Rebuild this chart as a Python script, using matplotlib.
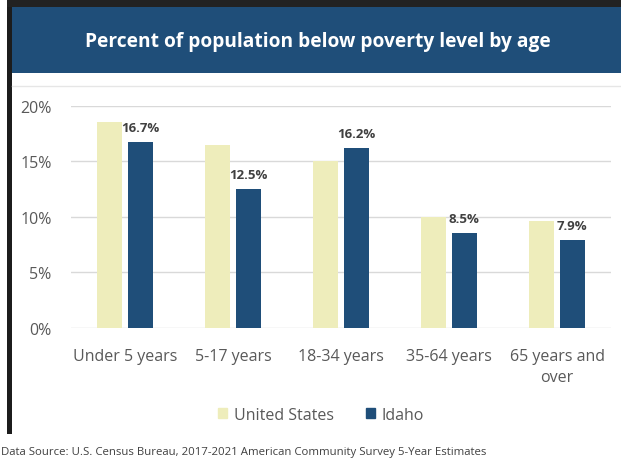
import matplotlib
matplotlib.use("Agg")
import matplotlib.pyplot as plt
import numpy as np
from matplotlib.patches import Rectangle
from matplotlib.lines import Line2D

plt.rcParams['font.family'] = ['Open Sans', 'DejaVu Sans']

categories = ["Under 5 years", "5-17 years", "18-34 years", "35-64 years", "65 years and\nover"]
us_values = [18.5, 16.5, 15.0, 10.0, 9.6]
idaho_values = [16.7, 12.5, 16.2, 8.5, 7.9]
yticks = [0, 5, 10, 15, 20]
ytick_labels = ["0%", "5%", "10%", "15%", "20%"]

us_color = '#EEEDBB'
id_color = '#1F4E79'
W, H = 621, 464

fig = plt.figure(figsize=(W / 100, H / 100), dpi=100)

# frame + header band
fig.patches.append(Rectangle((7 / W, 1 - 435 / H), 5 / W, 435 / H, transform=fig.transFigure,
                             facecolor='#1c1c1c', edgecolor='none', zorder=0))
fig.patches.append(Rectangle((7 / W, 1 - 8 / H), 1, 8 / H, transform=fig.transFigure,
                             facecolor='#222222', edgecolor='none', zorder=0))
fig.patches.append(Rectangle((12 / W, 1 - 74 / H), 1, 66 / H, transform=fig.transFigure,
                             facecolor='#1F4E79', edgecolor='none', zorder=1))
fig.add_artist(Line2D([12 / W, 1], [1 - 87 / H] * 2, transform=fig.transFigure,
                      color='#e6e6e6', lw=1))
fig.text(318 / W, 1 - 42 / H, "Percent of population below poverty level by age",
         color='white', fontsize=13.8, fontweight='bold', ha='center', va='center')

ax = fig.add_axes([71 / W, 1 - 328.7 / H, 540 / W, 222 / H])
x = np.arange(len(categories))
bw = 0.23
off = 0.142
ax.bar(x - off, us_values, bw, color=us_color, zorder=2, label='United States')
ax.bar(x + off, idaho_values, bw, color=id_color, zorder=2, label='Idaho')
for xi, v in zip(x + off, idaho_values):
    ax.annotate(f"{v}%", (xi, v), xytext=(0, 10.5), textcoords='offset points',
                ha='center', va='center', fontsize=9.5, fontweight='bold', color='#404040')

ax.set_xlim(-0.5, 4.5)
ax.set_ylim(0, 20)
ax.set_yticks(yticks)
ax.set_yticklabels(ytick_labels)
ax.yaxis.grid(True, color='#d9d9d9', lw=1, zorder=0)
ax.set_axisbelow(True)
ax.set_xticks(x)
ax.set_xticklabels(categories, linespacing=1.45)
ax.tick_params(axis='y', length=0, pad=14, labelsize=11.5, labelcolor='#595959')
ax.tick_params(axis='x', length=0, pad=14.5, labelsize=11.5, labelcolor='#595959')
for s in ax.spines.values():
    s.set_visible(False)

fig.legend(handles=[Rectangle((0, 0), 1, 1, color=us_color), Rectangle((0, 0), 1, 1, color=id_color)],
           labels=['United States', 'Idaho'], loc='center', bbox_to_anchor=(321 / W, 1 - 416 / H),
           ncol=2, frameon=False, fontsize=11.5, handlelength=0.6, handleheight=0.6,
           handletextpad=0.4, columnspacing=2.0, labelcolor='#595959')

fig.text(1 / W, 1 - 453 / H,
         "Data Source: U.S. Census Bureau, 2017-2021 American Community Survey 5-Year Estimates",
         fontsize=8.2, color='#404040', ha='left', va='center')

fig.savefig("out.png", dpi=100)
